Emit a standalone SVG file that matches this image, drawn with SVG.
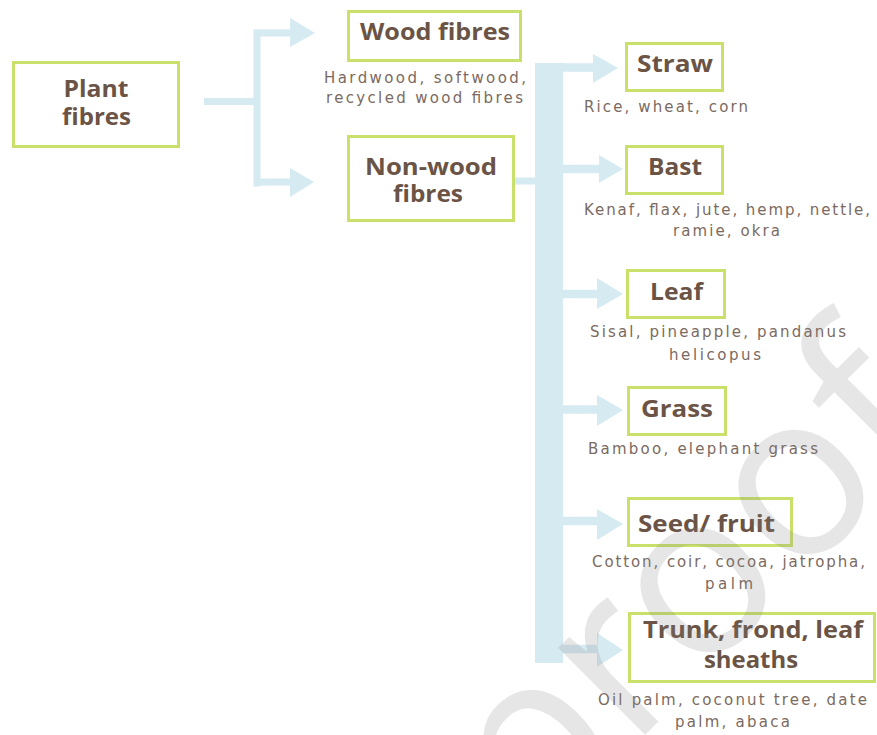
<svg xmlns="http://www.w3.org/2000/svg" width="877" height="735" viewBox="0 0 877 735">
<style>
.box{fill:#fff;stroke:#c9e16a;stroke-width:3}
.t{font-family:"Open Sans","Liberation Sans",sans-serif;font-weight:700;font-size:24px;fill:#6b5446;text-anchor:middle}
.s{font-family:"DejaVu Sans","Open Sans","Liberation Sans",sans-serif;font-size:15px;fill:#7b6a61;text-anchor:middle}
.c{fill:none;stroke:#d6eaf2}
.h{fill:#d6eaf2}
.wm{font-family:"Open Sans","DejaVu Sans",sans-serif;font-size:230px;fill:#808080;fill-opacity:0.2;text-anchor:end}
</style>
<rect width="877" height="735" fill="#fff"/>
<g id="connectors">
  <path class="c" stroke-width="7" d="M204,101.5H257M257,29.5V186.5M253.5,33H292M253.5,182H292"/>
  <polygon class="h" points="290,18 315,33 290,47"/>
  <polygon class="h" points="290,168 314,182 290,197"/>
  <path class="c" stroke-width="7" d="M515,181H540"/>
  <rect class="h" x="535" y="63" width="28" height="600"/>
  <path class="c" stroke-width="8.5" d="M560,67.5H595M560,169H600M560,294H598M560,409.5H598M560,521H598M560,649H598"/>
  <polygon class="h" points="593,54 618,68 593,83"/>
  <polygon class="h" points="599,155 623,169 599,183"/>
  <polygon class="h" points="597,278 623,294 597,309"/>
  <polygon class="h" points="597,395 623,410 597,426"/>
  <polygon class="h" points="597,509 623,524 597,540"/>
  <polygon class="h" points="597,633 623,650 597,667"/>
</g>
<g id="plant">
  <rect class="box" x="13.5" y="62.5" width="165" height="84"/>
  <text class="t" x="96" y="97" textLength="65" lengthAdjust="spacingAndGlyphs">Plant</text>
  <text class="t" x="96.5" y="125" textLength="69" lengthAdjust="spacingAndGlyphs">fibres</text>
</g>
<g id="wood">
  <rect class="box" x="348.5" y="11.5" width="172" height="49"/>
  <text class="t" x="435" y="40" textLength="150" lengthAdjust="spacingAndGlyphs">Wood fibres</text>
  <text class="s" x="425" y="83" textLength="202" lengthAdjust="spacing">Hardwood, softwood,</text>
  <text class="s" x="424.5" y="103" textLength="197" lengthAdjust="spacing">recycled wood fibres</text>
</g>
<g id="nonwood">
  <rect class="box" x="348.5" y="136.5" width="165" height="84"/>
  <text class="t" x="431" y="175" textLength="132" lengthAdjust="spacingAndGlyphs">Non-wood</text>
  <text class="t" x="428" y="202" textLength="70" lengthAdjust="spacingAndGlyphs">fibres</text>
</g>
<g id="straw">
  <rect class="box" x="626.5" y="43.5" width="96" height="47"/>
  <text class="t" x="675" y="72" textLength="76" lengthAdjust="spacingAndGlyphs">Straw</text>
  <text class="s" x="666" y="111.5" textLength="164" lengthAdjust="spacing">Rice, wheat, corn</text>
</g>
<g id="bast">
  <rect class="box" x="626.5" y="146.5" width="96" height="47"/>
  <text class="t" x="675" y="175" textLength="54" lengthAdjust="spacingAndGlyphs">Bast</text>
  <text class="s" x="727" y="215" textLength="286" lengthAdjust="spacing">Kenaf, flax, jute, hemp, nettle,</text>
  <text class="s" x="726.5" y="236" textLength="107" lengthAdjust="spacing">ramie, okra</text>
</g>
<g id="leaf">
  <rect class="box" x="627.5" y="270.5" width="97" height="47"/>
  <text class="t" x="676.5" y="300" textLength="53" lengthAdjust="spacingAndGlyphs">Leaf</text>
  <text class="s" x="718" y="337" textLength="256" lengthAdjust="spacing">Sisal, pineapple, pandanus</text>
  <text class="s" x="715" y="360" textLength="92" lengthAdjust="spacing">helicopus</text>
</g>
<g id="grass">
  <rect class="box" x="628.5" y="387.5" width="97" height="47"/>
  <text class="t" x="677" y="417" textLength="72" lengthAdjust="spacingAndGlyphs">Grass</text>
  <text class="s" x="703" y="454" textLength="230" lengthAdjust="spacing">Bamboo, elephant grass</text>
</g>
<g id="seed">
  <rect class="box" x="628.5" y="498.5" width="163" height="47"/>
  <text class="t" x="706.5" y="532" textLength="137" lengthAdjust="spacingAndGlyphs">Seed/ fruit</text>
  <text class="s" x="728.5" y="567" textLength="273" lengthAdjust="spacing">Cotton, coir, cocoa, jatropha,</text>
  <text class="s" x="729" y="589" textLength="48" lengthAdjust="spacing">palm</text>
</g>
<g id="trunk">
  <rect class="box" x="629.5" y="613.5" width="245" height="68"/>
  <text class="t" x="753" y="638" textLength="220" lengthAdjust="spacingAndGlyphs">Trunk, frond, leaf</text>
  <text class="t" x="751" y="668" textLength="94" lengthAdjust="spacingAndGlyphs">sheaths</text>
  <text class="s" x="732.5" y="705" textLength="269" lengthAdjust="spacing">Oil palm, coconut tree, date</text>
  <text class="s" x="732.5" y="727" textLength="115" lengthAdjust="spacing">palm, abaca</text>
</g>
<text class="wm" transform="translate(948,432) rotate(-45)">Journal Pre-proof</text>
</svg>
